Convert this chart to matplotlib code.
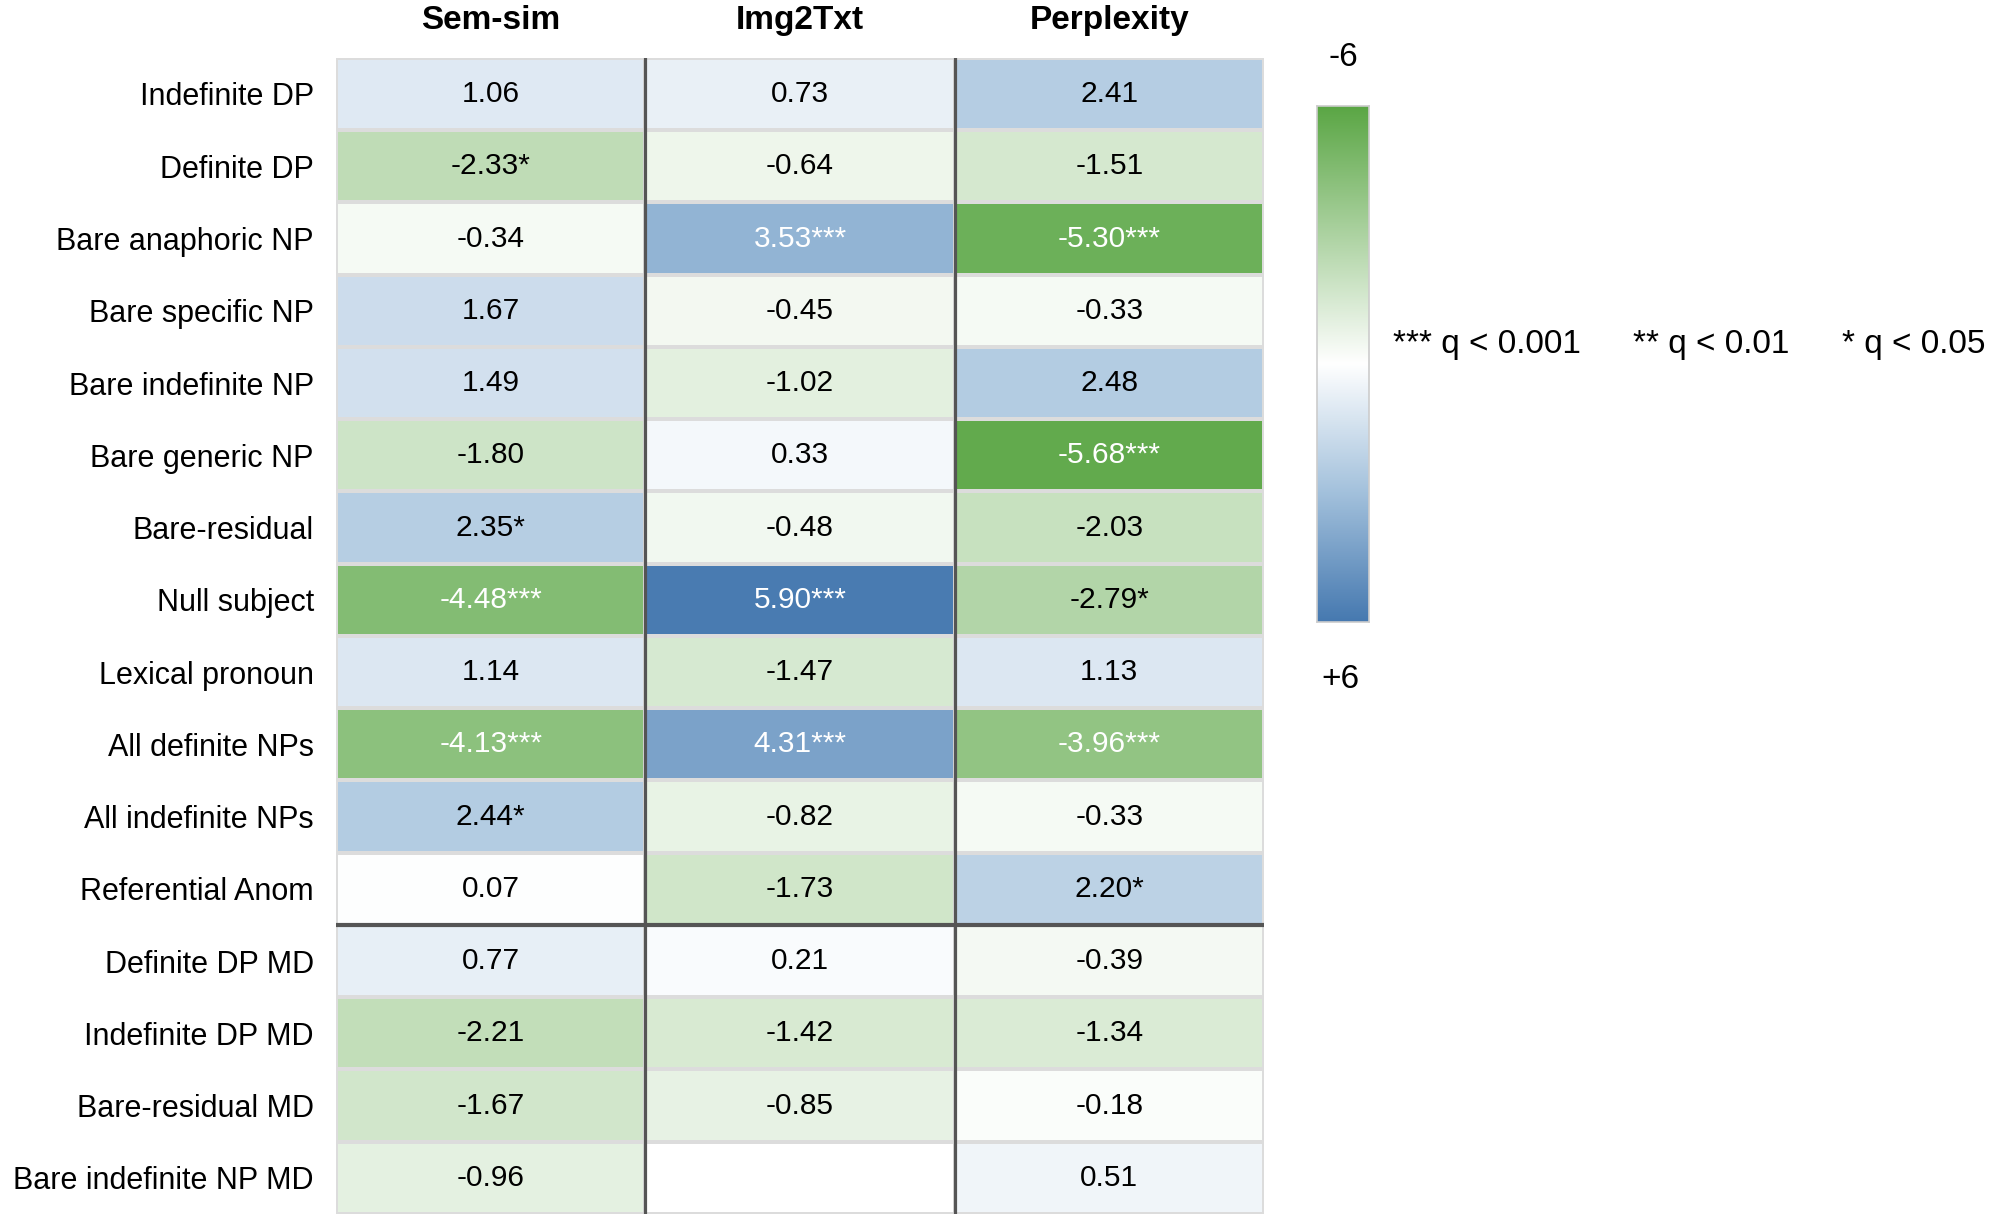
import matplotlib
matplotlib.use("Agg")
import matplotlib.pyplot as plt
import numpy as np
from matplotlib.colors import LinearSegmentedColormap, Normalize

plt.rcParams['font.family'] = ['Liberation Sans', 'DejaVu Sans']

# data
rows = ["Indefinite DP", "Definite DP", "Bare anaphoric NP", "Bare specific NP",
        "Bare indefinite NP", "Bare generic NP", "Bare-residual", "Null subject",
        "Lexical pronoun", "All definite NPs", "All indefinite NPs", "Referential Anom",
        "Definite DP MD", "Indefinite DP MD", "Bare-residual MD", "Bare indefinite NP MD"]
columns = ["Sem-sim", "Img2Txt", "Perplexity"]

sem_sim = [1.06, -2.33, -0.34, 1.67, 1.49, -1.80, 2.35, -4.48, 1.14, -4.13, 2.44, 0.07,
           0.77, -2.21, -1.67, -0.96]
sem_sim_sig = ["", "*", "", "", "", "", "*", "***", "", "***", "*", "", "", "", "", ""]

img2txt = [0.73, -0.64, 3.53, -0.45, -1.02, 0.33, -0.48, 5.90, -1.47, 4.31, -0.82, -1.73,
           0.21, -1.42, -0.85, np.nan]
img2txt_sig = ["", "", "***", "", "", "", "", "***", "", "***", "", "", "", "", "", ""]

perplexity = [2.41, -1.51, -5.30, -0.33, 2.48, -5.68, -2.03, -2.79, 1.13, -3.96, -0.33, 2.20,
              -0.39, -1.34, -0.18, 0.51]
perplexity_sig = ["", "", "***", "", "", "***", "", "*", "", "***", "", "*", "", "", "", ""]

legend_items = ["*** q < 0.001", "** q < 0.01", "* q < 0.05"]

values = np.array([sem_sim, img2txt, perplexity]).T
sigs = np.array([sem_sim_sig, img2txt_sig, perplexity_sig]).T

cmap = LinearSegmentedColormap.from_list(
    "gwb", [(0.0, "#5aa644"), (0.5, "#ffffff"), (0.75, "#a3c1dc"), (1.0, "#4679b0")])
norm = Normalize(vmin=-6, vmax=6)

fig = plt.figure(figsize=(20, 12.26), dpi=100)
ax = fig.add_axes([0.168, 0.0098, 0.464, 0.943])

masked = np.ma.masked_invalid(values)
ax.pcolormesh(masked, cmap=cmap, norm=norm, edgecolors="#dcdcdc", linewidth=1.6)
ax.set_xlim(0, 3)
ax.set_ylim(len(rows), 0)

for i in range(len(rows)):
    for j in range(len(columns)):
        v = values[i, j]
        if np.isnan(v):
            continue
        color = "white" if abs(v) >= 3.5 else "black"
        ax.text(j + 0.5, i + 0.5, f"{v:.2f}{sigs[i, j]}", ha="center", va="center",
                fontsize=21.5, color=color)

# separators
for x in [1, 2]:
    ax.axvline(x, color="#555555", lw=2.3)
ax.axhline(12, color="#555555", lw=3)

ax.set_yticks(np.arange(len(rows)) + 0.5)
ax.set_yticklabels(rows, fontsize=22)
ax.tick_params(axis="y", length=0, pad=16)
ax.set_xticks([])
for s in ax.spines.values():
    s.set_visible(False)

for j, c in enumerate(columns):
    fig.text(0.168 + 0.464 * (j + 0.5) / 3, 0.983, c, ha="center", va="center",
             fontsize=24, fontweight="bold")

# colorbar
cax = fig.add_axes([0.6585, 0.4925, 0.026, 0.421])
grad = np.linspace(-6, 6, 256).reshape(-1, 1)
cax.imshow(grad, aspect="auto", cmap=cmap, norm=norm, extent=[0, 1, 6, -6])
cax.set_xticks([])
cax.set_yticks([])
for s in cax.spines.values():
    s.set_edgecolor("#cccccc")
    s.set_linewidth(1.2)

fig.text(0.6715, 0.953, "-6", ha="center", va="center", fontsize=24)
fig.text(0.670, 0.446, "+6", ha="center", va="center", fontsize=24)

for x, t in zip([0.6965, 0.8165, 0.921], legend_items):
    fig.text(x, 0.719, t, ha="left", va="center", fontsize=24)

fig.savefig("out.png", dpi=100, facecolor="white")
